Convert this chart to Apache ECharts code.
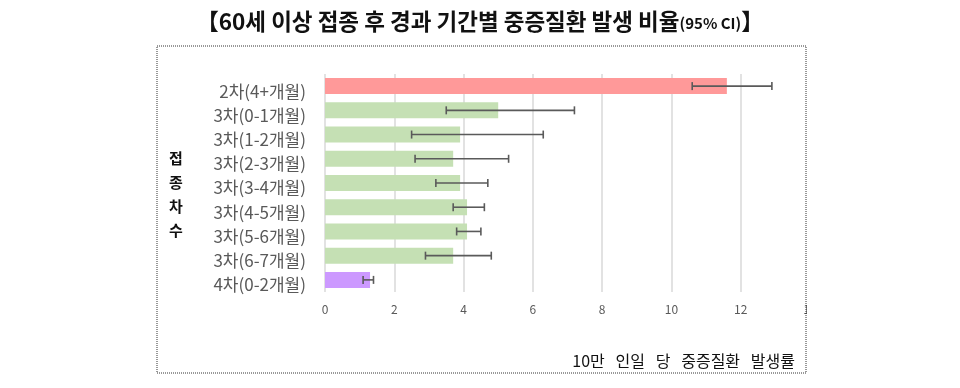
<!DOCTYPE html>
<html><head><meta charset="utf-8">
<script src="https://cdn.jsdelivr.net/npm/echarts@6/dist/echarts.min.js"></script>
<style>html,body{margin:0;padding:0;background:#fff}#c{width:960px;height:388px}</style>
</head><body><div id="c"></div>
<script>
const categories = ['2차(4+개월)','3차(0-1개월)','3차(1-2개월)','3차(2-3개월)','3차(3-4개월)','3차(4-5개월)','3차(5-6개월)','3차(6-7개월)','4차(0-2개월)'];
const rates = [11.6, 5.0, 3.9, 3.7, 3.9, 4.1, 4.1, 3.7, 1.3];
const ciLow = [10.6, 3.5, 2.5, 2.6, 3.2, 3.7, 3.8, 2.9, 1.1];
const ciHigh = [12.9, 7.2, 6.3, 5.3, 4.7, 4.6, 4.5, 4.8, 1.4];
const barColors = ['#FF9999','#C5E0B4','#C5E0B4','#C5E0B4','#C5E0B4','#C5E0B4','#C5E0B4','#C5E0B4','#CC99FF'];
const xTicks = [0,2,4,6,8,10,12,14];

const chart = echarts.init(document.getElementById('c'), null, {renderer:'canvas'});
const font = '"Noto Sans CJK KR","Noto Sans",sans-serif';
chart.setOption({
  animation:false,
  textStyle:{fontFamily:font},
  title:{
    left:'center', top:5,
    text:'{b|【60세 이상 접종 후 경과 기간별 중증질환 발생 비율}{s|(95% CI)}{b|】}',
    textStyle:{rich:{
      b:{fontSize:22.5,fontWeight:'bold',color:'#111',fontFamily:font},
      s:{fontSize:15,fontWeight:'bold',color:'#111',fontFamily:font,padding:[5,0,0,0]}
    }}
  },
  grid:{left:325, right:150, top:74, bottom:96, containLabel:false},
  xAxis:{
    type:'value', min:xTicks[0], max:xTicks[xTicks.length-1], interval:2,
    axisLine:{show:false}, axisTick:{show:false},
    splitLine:{show:true, lineStyle:{color:'#d9d9d9', width:1.5}},
    axisLabel:{color:'#595959', fontSize:12, margin:11, fontFamily:font}
  },
  yAxis:{
    type:'category', data:categories, inverse:true,
    axisLine:{show:false}, axisTick:{show:false},
    axisLabel:{color:'#595959', fontSize:17, margin:19, verticalAlign:'top', lineHeight:10, fontFamily:font, letterSpacing:0.6}
  },
  series:[
    {type:'bar', data:rates.map((v,i)=>({value:v, itemStyle:{color:barColors[i]}})), barWidth:16},
    {type:'custom', z:5,
     data: categories.map((c,i)=>[i, ciLow[i], ciHigh[i]]),
     encode:{x:[1,2], y:0},
     renderItem:function(params, api){
       const p1 = api.coord([api.value(1), api.value(0)]);
       const p2 = api.coord([api.value(2), api.value(0)]);
       const h = 4;
       const st = {stroke:'#5a5a5a', lineWidth:1.6};
       return {type:'group', children:[
         {type:'line', shape:{x1:p1[0], y1:p1[1], x2:p2[0], y2:p2[1]}, style:st},
         {type:'line', shape:{x1:p1[0], y1:p1[1]-h, x2:p1[0], y2:p1[1]+h}, style:st},
         {type:'line', shape:{x1:p2[0], y1:p2[1]-h, x2:p2[0], y2:p2[1]+h}, style:st}
       ]};
     }
    }
  ],
  graphic:[
    {type:'rect', z:100, shape:{x:807, y:40, width:153, height:348}, style:{fill:'#fff'}},
    {type:'rect', z:101, shape:{x:157, y:46, width:649, height:327}, style:{fill:null, stroke:'#333', lineWidth:1, lineDash:[1,1]}},
    {type:'text', z:101, x:176, y:146, style:{text:'접\n종\n차\n수', fontSize:15, fontWeight:'bold', fill:'#111', align:'center', verticalAlign:'top', lineHeight:24, fontFamily:font}},
    {type:'text', z:101, x:795, y:361, style:{text:'10만   인일   당   중증질환   발생률', fontSize:16, fill:'#111', align:'right', verticalAlign:'middle', fontFamily:font}}
  ]
});
</script></body></html>
